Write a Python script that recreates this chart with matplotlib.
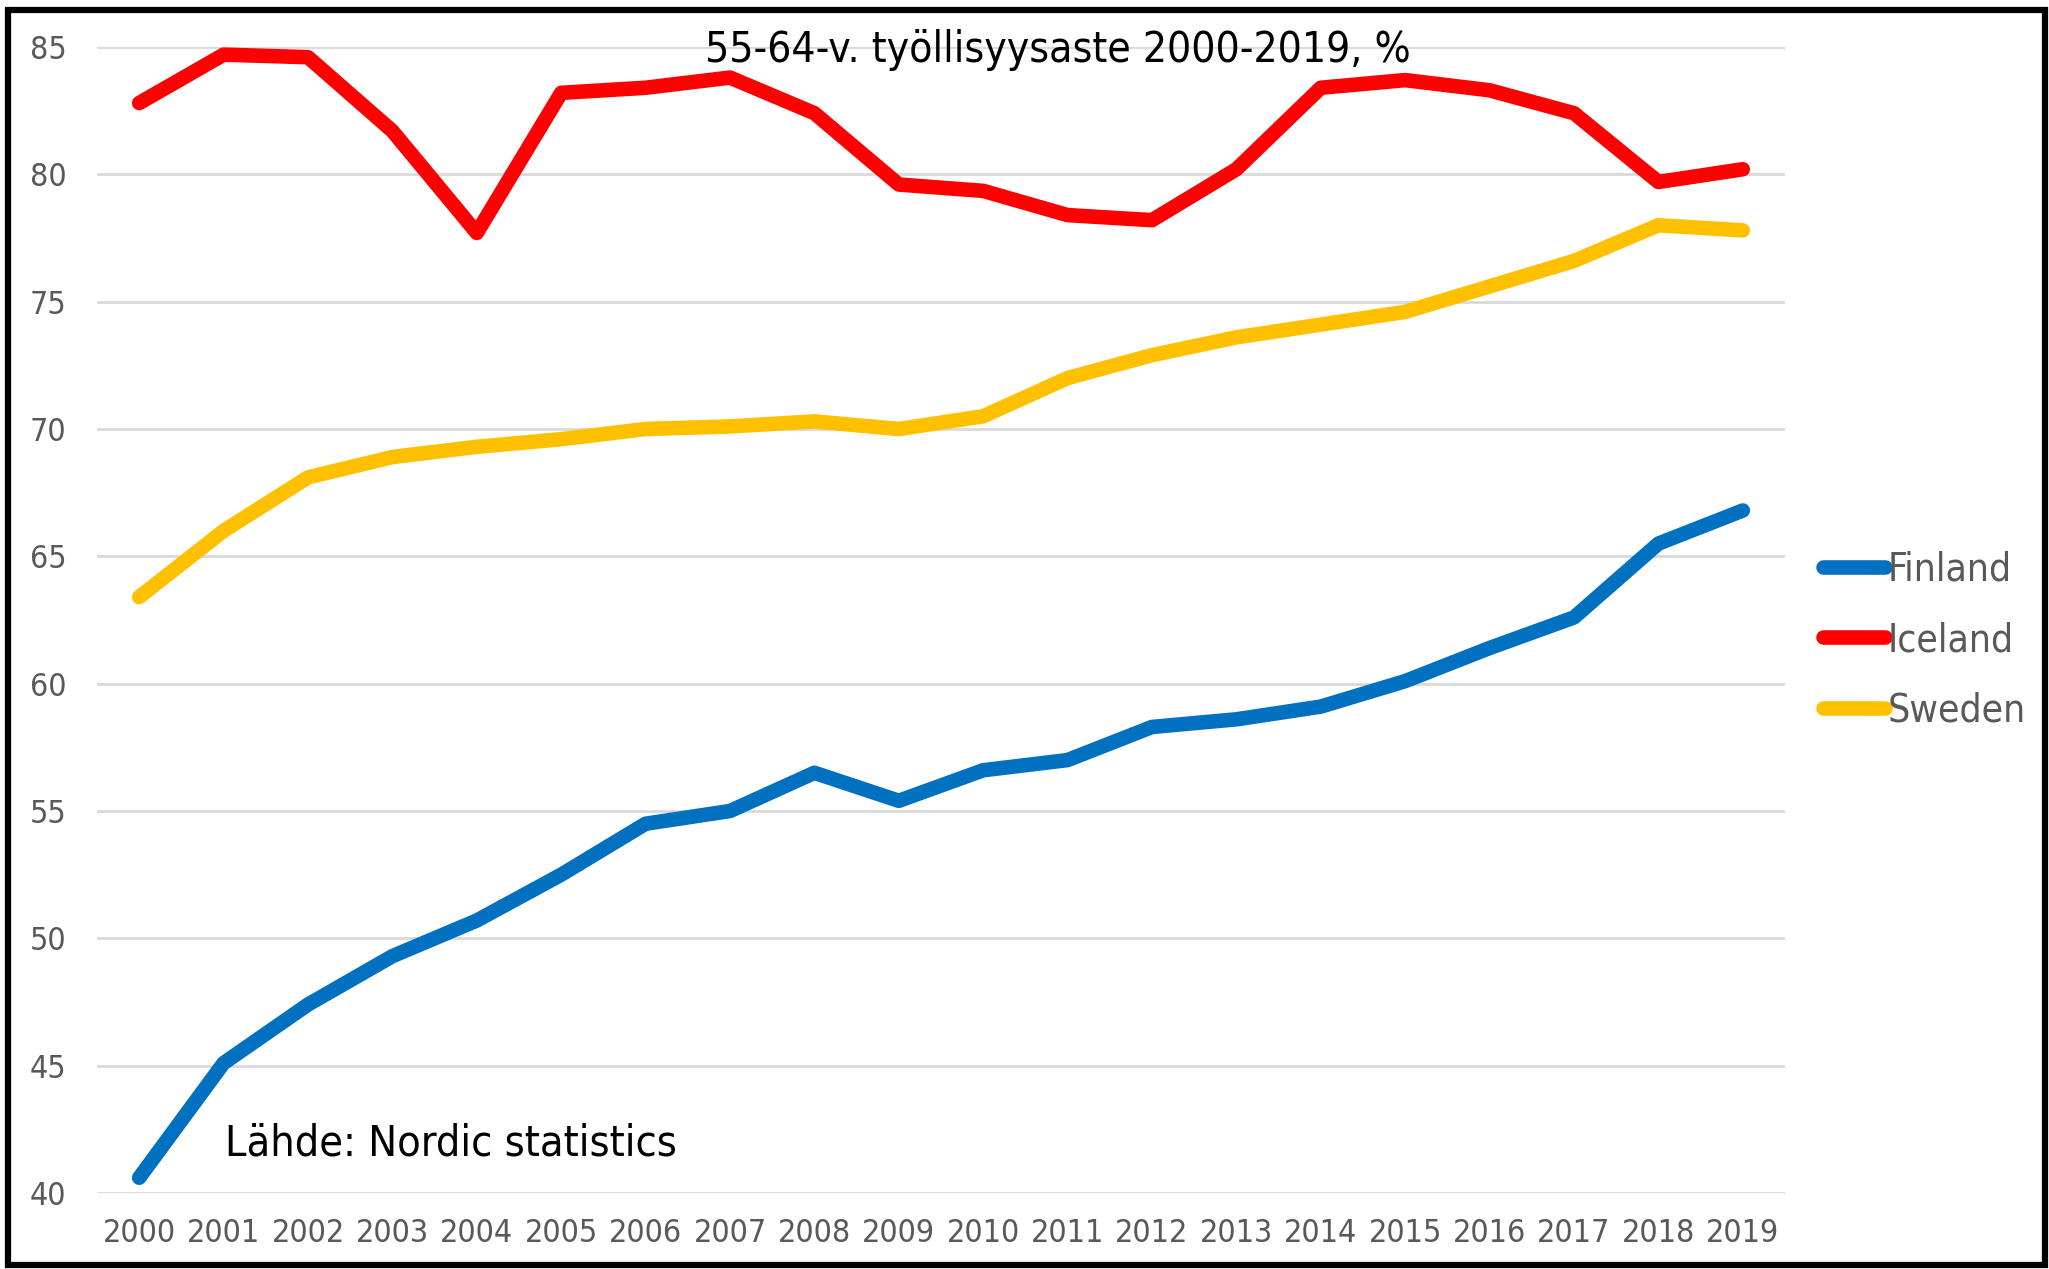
import numpy as np
import matplotlib
matplotlib.use("Agg")
import matplotlib.pyplot as plt
from matplotlib.patches import Rectangle

plt.rcParams['font.family'] = ['DejaVu Sans']
plt.rcParams['font.stretch'] = 'condensed'

# Data
years = [str(y) for y in range(2000, 2020)]
finland = [40.6, 45.1, 47.4, 49.3, 50.7, 52.5, 54.5, 55.0, 56.5, 55.4,
           56.6, 57.0, 58.3, 58.6, 59.1, 60.1, 61.4, 62.6, 65.5, 66.8]
iceland = [82.8, 84.7, 84.6, 81.7, 77.7, 83.2, 83.4, 83.8, 82.4, 79.6,
           79.35, 78.4, 78.2, 80.2, 83.4, 83.7, 83.3, 82.4, 79.7, 80.2]
sweden = [63.4, 66.0, 68.1, 68.9, 69.3, 69.6, 70.0, 70.1, 70.3, 70.0,
          70.5, 72.0, 72.9, 73.6, 74.1, 74.6, 75.6, 76.6, 78.0, 77.8]
y_ticks = [40, 45, 50, 55, 60, 65, 70, 75, 80, 85]

series = [('Finland', finland, '#0070C0'),
          ('Iceland', iceland, '#FF0000'),
          ('Sweden', sweden, '#FFC000')]

fig = plt.figure(figsize=(20.49, 12.69), dpi=100)
ax = fig.add_axes([97 / 2049, 1 - 1193 / 1269, (1785 - 97) / 2049, (1193 - 47) / 1269])

x = np.arange(len(years))
for name, vals, col in series:
    ax.plot(x, vals, color=col, lw=10.5, label=name,
            solid_capstyle='round', solid_joinstyle='round', zorder=3)

ax.set_xlim(-0.5, len(years) - 0.5)
ax.set_ylim(40, 85)
ax.set_yticks(y_ticks)
ax.set_xticks(x)
ax.set_xticklabels(years)
ax.grid(axis='y', color='#D9D9D9', lw=2, zorder=0)
for s in ax.spines.values():
    s.set_visible(False)
ax.tick_params(length=0, labelsize=23, labelcolor='#595959')
ax.tick_params(axis='y', pad=22)
ax.tick_params(axis='x', pad=18)

# Otsikko ja lähde
fig.text(1058 / 2049, 1 - 50 / 1269, '55-64-v. työllisyysaste 2000-2019, %',
         ha='center', va='center', fontsize=30.5, color='black')
fig.text(225 / 2049, 1 - 1143 / 1269, 'Lähde: Nordic statistics',
         ha='left', va='center', fontsize=31, color='black')

leg = fig.legend(loc='center left', bbox_to_anchor=(1788 / 2049, 1 - 640 / 1269),
                 frameon=False, fontsize=28, handlelength=1.6, handletextpad=0.05,
                 labelspacing=0.83)
for t in leg.get_texts():
    t.set_color('#595959')

# musta kehys
fig.patches.append(Rectangle((8 / 2049, 4 / 1269), (2045 - 8) / 2049, (1259 - 4) / 1269,
                             transform=fig.transFigure, fill=False,
                             edgecolor='black', lw=4.5))

fig.savefig('out.png', dpi=100)
